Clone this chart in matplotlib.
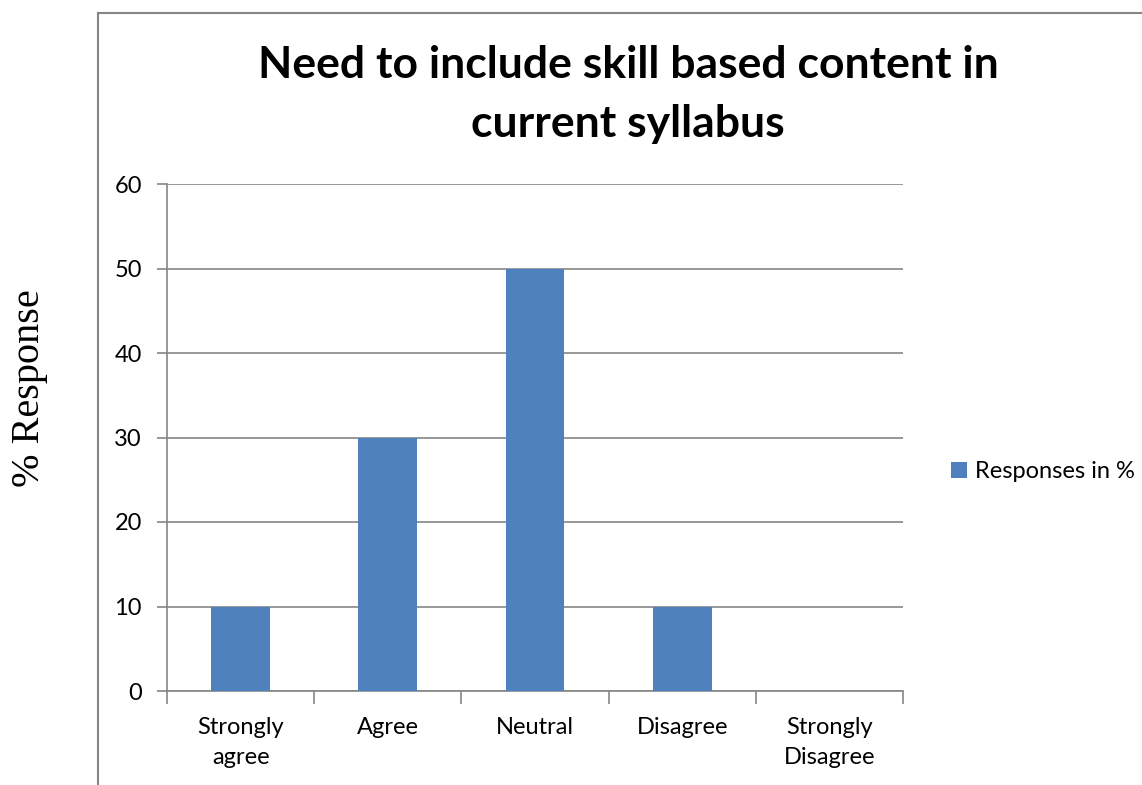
import matplotlib
matplotlib.use('Agg')
import matplotlib.pyplot as plt
from matplotlib.lines import Line2D
import numpy as np

categories = ['Strongly\nagree', 'Agree', 'Neutral', 'Disagree', 'Strongly\nDisagree']
responses = [10, 30, 50, 10, 0]
yticks = [0, 10, 20, 30, 40, 50, 60]

plt.rcParams['font.family'] = ['Lato', 'DejaVu Sans']
grey = '#868686'

fig = plt.figure(figsize=(11.42, 7.85), dpi=100)
ax = fig.add_axes([167/1142, 1 - 691/785, 736/1142, 507/785])

x = np.arange(len(categories))
ax.bar(x, responses, width=0.4, color='#4F81BD', label='Responses in %', zorder=3)

ax.set_xlim(-0.5, len(categories) - 0.5)
ax.set_ylim(0, 60)
ax.set_yticks(yticks)
ax.set_yticklabels([str(v) for v in yticks], fontsize=17)
ax.yaxis.grid(True, color=grey, linewidth=1.2, zorder=0)

ax.set_xticks(x)
ax.set_xticklabels(categories, fontsize=17, linespacing=1.5)
ax.set_xticks(np.arange(len(categories) + 1) - 0.5, minor=True)
ax.tick_params(axis='x', which='major', length=0, pad=19)
ax.tick_params(axis='x', which='minor', length=9, width=1.2, color=grey, direction='out')
ax.tick_params(axis='y', length=7, width=1.2, color=grey, direction='out', pad=11)

for s in ['top', 'right']:
    ax.spines[s].set_visible(False)
for s in ['left', 'bottom']:
    ax.spines[s].set_color(grey)
    ax.spines[s].set_linewidth(1.2)

fig.text(628/1142, 1 - 65/785, 'Need to include skill based content in',
         fontsize=32, fontweight='bold', ha='center', va='center')
fig.text(628/1142, 1 - 124/785, 'current syllabus',
         fontsize=32, fontweight='bold', ha='center', va='center')

fig.text(30/1142, 1 - 388/785, '% Response', rotation=90, fontsize=29,
         family='Liberation Serif', ha='center', va='center')

# chart frame
fig.add_artist(Line2D([98/1142, 98/1142], [0, 1 - 13/785], transform=fig.transFigure,
                      color=grey, linewidth=1.5))
fig.add_artist(Line2D([98/1142, 1], [1 - 13/785, 1 - 13/785], transform=fig.transFigure,
                      color=grey, linewidth=1.5))

ax.legend(loc='center left', bbox_to_anchor=(930/1142, 1 - 472/785),
          bbox_transform=fig.transFigure, frameon=False, fontsize=17,
          handlelength=0.65, handleheight=0.65, handletextpad=0.35)

fig.savefig('out.png', dpi=100)
